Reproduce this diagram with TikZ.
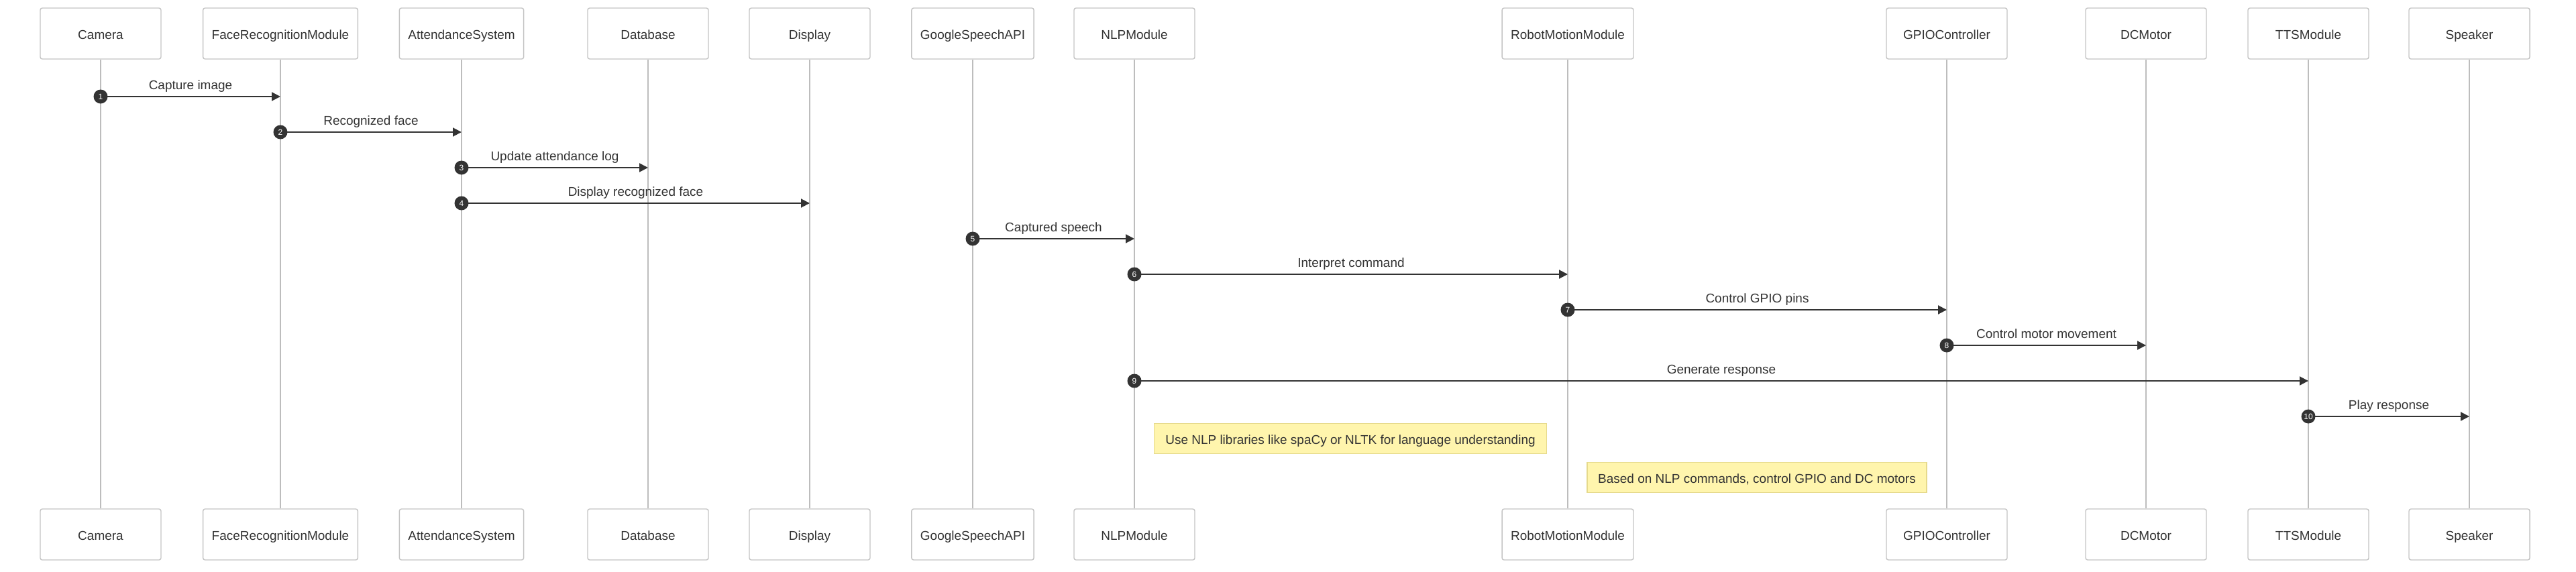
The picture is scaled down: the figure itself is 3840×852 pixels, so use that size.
\documentclass[tikz,border=0pt]{standalone}
\usepackage{fontspec}
\setmainfont{Liberation Sans}
\usetikzlibrary{positioning,calc,arrows.meta}
\definecolor{inkgray}{HTML}{333333}
\definecolor{boxline}{HTML}{C4C4C4}
\definecolor{lifegray}{HTML}{BDBDBD}
\definecolor{notefill}{HTML}{FFF5AD}
\definecolor{noteline}{HTML}{E6DA8C}
\tikzset{font=\fontsize{13.5}{16}\selectfont}
\tikzset{
	actor/.style={draw=boxline, line width=0.35mm, fill=white, rounded corners=0.75mm,
		minimum width=45mm, minimum height=19mm, inner xsep=3.25mm, inner ysep=0pt,
		text height=13pt, text depth=1.4pt, text=inkgray},
	lifeline/.style={draw=lifegray, line width=0.5mm},
	msg/.style={draw=inkgray, line width=0.5mm, -{Triangle[length=3.25mm, width=3.25mm]}},
	msglabel/.style={anchor=base, yshift=2.75mm, text=inkgray},
	seqnum/.style={circle, fill=inkgray, text=white, inner sep=0pt, minimum size=5.25mm,
		font=\fontsize{8.5}{10}\selectfont},
	note/.style={draw=noteline, fill=notefill, line width=0.35mm, minimum height=11.25mm,
		inner ysep=0pt, text height=13pt, text depth=1.4pt, text=inkgray}
}

\begin{document}
\begin{tikzpicture}[x=0.25mm, y=-0.25mm]
	\useasboundingbox (0,0) rectangle (3840,852);

	% participants, top row
	\node[actor] (cam)   at (150,50)  {Camera};
	\node[actor] (face)  at (418,50)  {FaceRecognitionModule};
	\node[actor] (att)   at (688,50)  {AttendanceSystem};
	\node[actor] (db)    at (966,50)  {Database};
	\node[actor] (disp)  at (1207,50) {Display};
	\node[actor] (gsa)   at (1450,50) {GoogleSpeechAPI};
	\node[actor] (nlp)   at (1691,50) {NLPModule};
	\node[actor] (robot) at (2337,50) {RobotMotionModule};
	\node[actor] (gpio)  at (2902,50) {GPIOController};
	\node[actor] (dcm)   at (3199,50) {DCMotor};
	\node[actor] (tts)   at (3441,50) {TTSModule};
	\node[actor] (spk)   at (3681,50) {Speaker};

	% participants, bottom row
	\node[actor] (cam-b)   at (150,797)  {Camera};
	\node[actor] (face-b)  at (418,797)  {FaceRecognitionModule};
	\node[actor] (att-b)   at (688,797)  {AttendanceSystem};
	\node[actor] (db-b)    at (966,797)  {Database};
	\node[actor] (disp-b)  at (1207,797) {Display};
	\node[actor] (gsa-b)   at (1450,797) {GoogleSpeechAPI};
	\node[actor] (nlp-b)   at (1691,797) {NLPModule};
	\node[actor] (robot-b) at (2337,797) {RobotMotionModule};
	\node[actor] (gpio-b)  at (2902,797) {GPIOController};
	\node[actor] (dcm-b)   at (3199,797) {DCMotor};
	\node[actor] (tts-b)   at (3441,797) {TTSModule};
	\node[actor] (spk-b)   at (3681,797) {Speaker};

	% lifelines
	\draw[lifeline] (cam)   -- (cam-b);
	\draw[lifeline] (face)  -- (face-b);
	\draw[lifeline] (att)   -- (att-b);
	\draw[lifeline] (db)    -- (db-b);
	\draw[lifeline] (disp)  -- (disp-b);
	\draw[lifeline] (gsa)   -- (gsa-b);
	\draw[lifeline] (nlp)   -- (nlp-b);
	\draw[lifeline] (robot) -- (robot-b);
	\draw[lifeline] (gpio)  -- (gpio-b);
	\draw[lifeline] (dcm)   -- (dcm-b);
	\draw[lifeline] (tts)   -- (tts-b);
	\draw[lifeline] (spk)   -- (spk-b);

	% messages
	\coordinate (m1)  at (cam |- 0,144);
	\coordinate (m2)  at (face |- 0,197);
	\coordinate (m3)  at (att |- 0,250);
	\coordinate (m4)  at (att |- 0,303);
	\coordinate (m5)  at (gsa |- 0,356);
	\coordinate (m6)  at (nlp |- 0,409);
	\coordinate (m7)  at (robot |- 0,462);
	\coordinate (m8)  at (gpio |- 0,515);
	\coordinate (m9)  at (nlp |- 0,568);
	\coordinate (m10) at (tts |- 0,621);

	\draw[msg] (m1)  -- (face |- m1)  node[midway, msglabel] {Capture image};
	\draw[msg] (m2)  -- (att |- m2)   node[midway, msglabel] {Recognized face};
	\draw[msg] (m3)  -- (db |- m3)    node[midway, msglabel] {Update attendance log};
	\draw[msg] (m4)  -- (disp |- m4)  node[midway, msglabel] {Display recognized face};
	\draw[msg] (m5)  -- (nlp |- m5)   node[midway, msglabel] {Captured speech};
	\draw[msg] (m6)  -- (robot |- m6) node[midway, msglabel] {Interpret command};
	\draw[msg] (m7)  -- (gpio |- m7)  node[midway, msglabel] {Control GPIO pins};
	\draw[msg] (m8)  -- (dcm |- m8)   node[midway, msglabel] {Control motor movement};
	\draw[msg] (m9)  -- (tts |- m9)   node[midway, msglabel] {Generate response};
	\draw[msg] (m10) -- (spk |- m10)  node[midway, msglabel] {Play response};

	\node[seqnum] (n1)  at (m1)  {1};
	\node[seqnum] (n2)  at (m2)  {2};
	\node[seqnum] (n3)  at (m3)  {3};
	\node[seqnum] (n4)  at (m4)  {4};
	\node[seqnum] (n5)  at (m5)  {5};
	\node[seqnum] (n6)  at (m6)  {6};
	\node[seqnum] (n7)  at (m7)  {7};
	\node[seqnum] (n8)  at (m8)  {8};
	\node[seqnum] (n9)  at (m9)  {9};
	\node[seqnum] (n10) at (m10) {10};

	% notes
	\node[note, minimum width=146.25mm] (note-nlp)   at (2013,654) {Use NLP libraries like spaCy or NLTK for language understanding};
	\node[note, minimum width=126.5mm]  (note-robot) at (2619,712) {Based on NLP commands, control GPIO and DC motors};
\end{tikzpicture}
\end{document}
